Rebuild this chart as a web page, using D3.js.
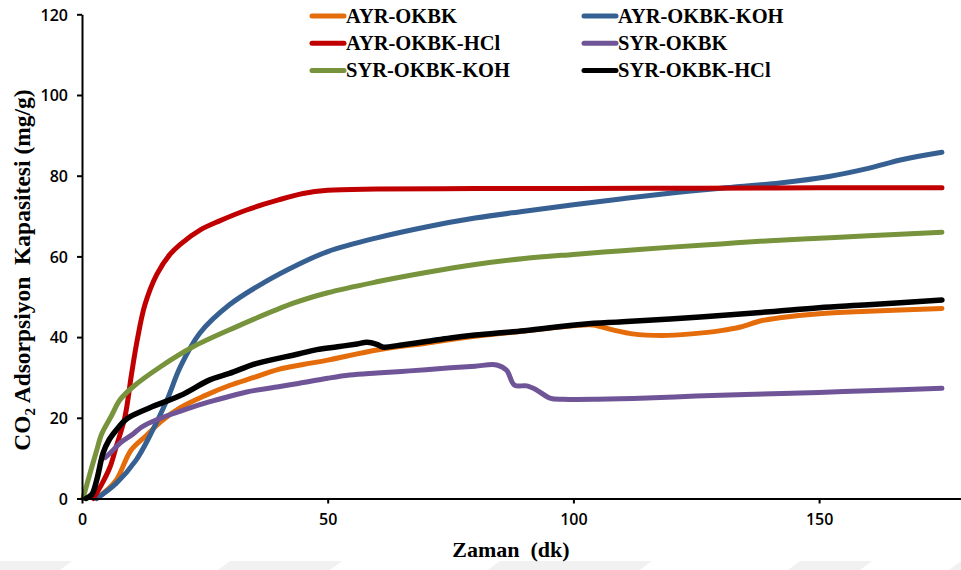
<!DOCTYPE html>
<html>
<head>
<meta charset="utf-8">
<script src="https://cdn.jsdelivr.net/npm/d3@7"></script>
<style>
  body { margin: 0; background: #ffffff; }
  svg { display: block; }
  .tick text { font-family: "Open Sans", "Noto Sans", sans-serif; font-weight: 600; font-size: 16px; fill: #000; }
  .serif { font-family: "Liberation Serif", Tinos, "Times New Roman", Times, "DejaVu Serif", serif; font-weight: bold; fill: #000; }
</style>
</head>
<body>
<svg class="chart"></svg>
<script>
// time (dk) and CO2 capacity (mg/g)
const ayrOkbkT   = [3, 5, 7, 10, 13, 16, 20, 25, 30, 35, 40, 45, 50, 60, 70, 80, 90, 100, 104, 108, 112, 118, 124, 130, 134, 138, 142, 150, 160, 175];
const ayrOkbkV   = [0, 2, 4.6, 12, 15.5, 19, 22.5, 25.5, 28, 30, 32, 33.2, 34.3, 36.8, 38.5, 40.2, 41.5, 42.8, 43, 41.8, 40.8, 40.4, 40.8, 41.6, 42.5, 44, 44.8, 45.8, 46.4, 47.1];

const ayrKohT    = [3, 7, 11, 14, 17.3, 20, 24, 30, 37, 44, 50, 60, 70, 80, 90, 100, 110, 120, 130, 142, 152, 160, 167, 175];
const ayrKohV    = [0, 3.8, 9.5, 16, 24.4, 32.6, 41, 48, 53.5, 58, 61.2, 64.6, 67.3, 69.5, 71.2, 72.8, 74.3, 75.7, 76.9, 78.2, 79.8, 81.8, 84, 85.8];

const ayrHclT    = [2.3, 4, 5.7, 7, 8.7, 10.1, 11.2, 12.8, 15.2, 17.9, 20, 24, 28, 33.5, 40, 45, 50, 60, 80, 100, 125, 150, 175];
const ayrHclV    = [0, 3.5, 7.8, 13, 20, 31, 39, 48, 55.5, 60.5, 63, 66.5, 68.8, 71.5, 74, 75.6, 76.4, 76.7, 76.8, 76.8, 76.9, 77, 77];

const syrOkbkT   = [4.7, 6, 8, 10.4, 12, 15.2, 22.6, 27, 33.5, 40, 44, 50, 54.5, 60, 65, 70, 75, 80, 84.4, 86.4, 88, 90.5, 92.5, 95.2, 98, 105, 115, 125, 135, 150, 160, 175];
const syrOkbkV   = [10.1, 11.6, 14, 16, 17.6, 19.5, 22.7, 24.3, 26.4, 27.7, 28.5, 29.8, 30.6, 31.1, 31.5, 31.9, 32.4, 32.8, 33.1, 31.8, 28.1, 27.9, 26.9, 24.9, 24.6, 24.6, 24.9, 25.4, 25.8, 26.3, 26.7, 27.3];

const syrKohT    = [0.2, 1, 2, 3, 4, 6, 7.7, 10.4, 15.9, 22.6, 31.5, 43, 50, 60, 70, 80, 90, 100, 110, 120, 130, 140, 150, 160, 175];
const syrKohV    = [0, 3.5, 7.8, 12, 16, 20.5, 24.4, 27.7, 32.6, 37.6, 42.6, 48.4, 51, 53.7, 56, 58, 59.5, 60.5, 61.4, 62.3, 63.1, 63.9, 64.5, 65.1, 66];

const syrHclT    = [0.8, 2, 3, 4.3, 5.5, 7, 8.6, 9.8, 13.8, 20, 26, 30, 35.6, 44, 47.8, 52, 56, 58, 60, 61.3, 64.7, 70, 75, 80, 90, 102, 110, 125.8, 140, 150, 160, 175];
const syrHclV    = [0, 1, 4.6, 11.3, 14.5, 17, 19.2, 20.3, 22.5, 25.5, 29.4, 31, 33.5, 35.8, 36.9, 37.6, 38.3, 38.7, 38.2, 37.5, 38, 38.9, 39.8, 40.5, 41.6, 43.2, 43.8, 45, 46.3, 47.3, 48, 49.2];

const seriesNames  = ["AYR-OKBK", "AYR-OKBK-KOH", "AYR-OKBK-HCl", "SYR-OKBK", "SYR-OKBK-KOH", "SYR-OKBK-HCl"];
const seriesColors = ["#e46c0a", "#376092", "#c00000", "#6f5597", "#77933c", "#000000"];

const xTicks = [0, 50, 100, 150];
const yTicks = [0, 20, 40, 60, 80, 100, 120];

const initChart = () => {
  const svgWidth = 961;
  const svgHeight = 570;

  const toPoints = (ts, vs) => ts.map((t, i) => ({ t: t, v: vs[i] }));
  var series = [
    toPoints(ayrOkbkT, ayrOkbkV),
    toPoints(ayrKohT, ayrKohV),
    toPoints(ayrHclT, ayrHclV),
    toPoints(syrOkbkT, syrOkbkV),
    toPoints(syrKohT, syrKohV),
    toPoints(syrHclT, syrHclV)
  ];

  var svg = d3.select(".chart")
      .attr("width", svgWidth)
      .attr("height", svgHeight);

  // faint page watermark band under the figure
  svg.append("rect")
    .attr("x", 0).attr("y", 561).attr("width", svgWidth).attr("height", 9)
    .attr("fill", "#f1f1f1");
  [[60, 230], [330, 500], [640, 800], [860, 961]].forEach((seg) => {
    svg.append("path")
      .attr("d", "M" + seg[0] + ",570L" + (seg[0] + 12) + ",561L" + seg[1] + ",561L" + (seg[1] - 12) + ",570Z")
      .attr("fill", "#ffffff");
  });

  var xScale = d3.scaleLinear()
      .domain([0, 179])
      .range([82, 961.6]);

  var yScale = d3.scaleLinear()
      .domain([0, 120])
      .range([498.5, 14.3]);

  var line = d3.line()
      .x((d) => xScale(d.t))
      .y((d) => yScale(d.v))
      .curve(d3.curveCatmullRom.alpha(0.5));

  svg.selectAll(".series")
    .data(series)
    .enter()
    .append("path")
    .attr("class", "series")
    .attr("d", line)
    .attr("fill", "none")
    .attr("stroke", (d, i) => seriesColors[i])
    .attr("stroke-width", (d, i) => i === 5 ? 5.5 : 5)
    .attr("stroke-linecap", "round")
    .attr("stroke-linejoin", "round");

  // axes
  var xAxis = d3.axisBottom(xScale).tickValues(xTicks).tickSize(5).tickPadding(10).tickSizeOuter(0);
  var yAxis = d3.axisLeft(yScale).tickValues(yTicks).tickSize(5).tickPadding(9).tickSizeOuter(0);

  var gx = svg.append("g")
    .attr("transform", "translate(0," + yScale(0) + ")")
    .call(xAxis);
  var gy = svg.append("g")
    .attr("transform", "translate(" + xScale(0) + ",0)")
    .call(yAxis);
  [gx, gy].forEach((g) => {
    g.select(".domain").attr("stroke", "#000").attr("stroke-width", 2);
    g.selectAll(".tick line").attr("stroke", "#000").attr("stroke-width", 2);
  });
  gy.selectAll(".tick text").attr("dy", "0.36em");

  svg.append("text")
    .attr("class", "serif")
    .attr("x", 511)
    .attr("y", 557)
    .attr("text-anchor", "middle")
    .style("font-size", "22px")
    .style("white-space", "pre")
    .text("Zaman  (dk)");

  var yTitle = svg.append("text")
    .attr("class", "serif")
    .attr("transform", "translate(30, 270) rotate(-90)")
    .attr("text-anchor", "middle")
    .style("font-size", "23.5px")
    .style("white-space", "pre");
  yTitle.append("tspan").text("CO");
  yTitle.append("tspan").style("font-size", "15px").attr("dy", 5).text("2");
  yTitle.append("tspan").attr("dy", -5).text(" Adsorpsiyon  Kapasitesi (mg/g)");

  // legend, two columns of three
  var legend = svg.selectAll(".legend")
    .data(seriesNames)
    .enter()
    .append("g")
    .attr("class", "legend")
    .attr("transform", (d, i) => "translate(" + (i % 2 === 0 ? 310 : 582) + "," + (16 + Math.floor(i / 2) * 27.2) + ")");
  legend.append("line")
    .attr("x1", 2).attr("x2", 34)
    .attr("y1", 0).attr("y2", 0)
    .attr("stroke", (d, i) => seriesColors[i])
    .attr("stroke-width", 5)
    .attr("stroke-linecap", "round");
  legend.append("text")
    .attr("class", "serif")
    .attr("x", 36)
    .attr("y", 7)
    .style("font-size", "20.5px")
    .text((d) => d);
};

document.addEventListener('DOMContentLoaded', initChart, false);
</script>
</body>
</html>
